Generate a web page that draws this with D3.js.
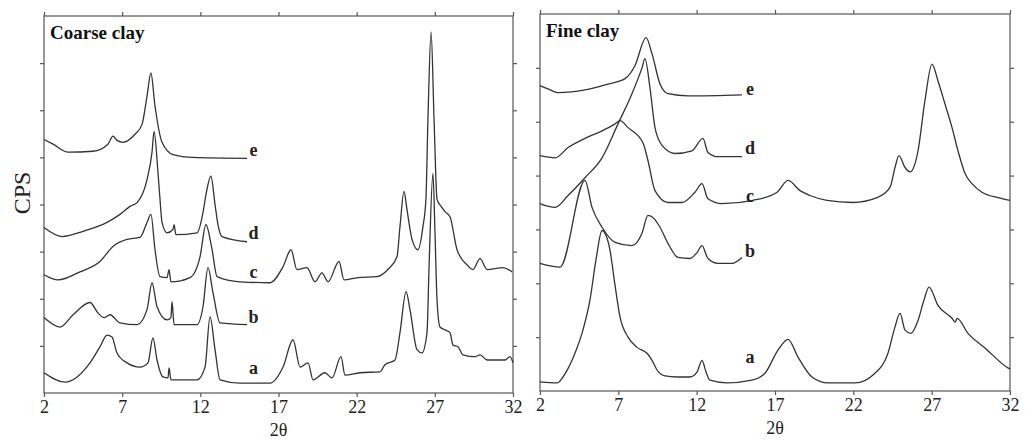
<!DOCTYPE html>
<html>
<head>
<meta charset="utf-8">
<script src="https://cdn.jsdelivr.net/npm/d3@7"></script>
<style>
  html, body { margin: 0; padding: 0; background: #fff; }
  svg { display: block; font-family: "Liberation Serif", "Times New Roman", serif; }
  .frame { fill: none; stroke: #555; stroke-width: 1.2; }
  .axis path { display: none; }
  .axis line { stroke: #555; stroke-width: 1.2; }
  .axis text { font-family: "Liberation Serif", serif; font-size: 18px; fill: #222; }
  .trace { fill: none; stroke: #333; stroke-width: 1.3; stroke-linejoin: round; }
</style>
</head>
<body>
<svg id="chart" width="1026" height="440"></svg>
<script>
// 2θ tick labels
const xTicks = [2, 7, 12, 17, 22, 27, 32];
const seriesNames = ['a', 'b', 'c', 'd', 'e'];

// Coarse clay traces, [2θ, CPS]
const coarseA = [[2.0,43],[3.34,23],[4.94,64],[5.58,98],[6.03,123],[6.35,119],[6.67,85],[7.31,64],[8.14,55],[8.65,64],[8.97,117],[9.23,70],[9.61,34],[9.93,32],[10.0,53],[10.12,28],[11.79,28],[12.3,55],[12.62,162],[12.94,92],[13.26,28],[14.54,21],[16.46,21],[17.29,55],[17.93,113],[18.38,55],[18.89,64],[19.21,28],[19.97,43],[20.42,32],[21.0,77],[21.25,38],[22.21,43],[23.49,45],[23.81,60],[24.45,70],[24.77,128],[25.16,215],[25.41,177],[25.86,92],[26.18,85],[26.5,128],[26.63,268],[26.88,466],[27.01,340],[27.14,198],[27.33,140],[27.65,134],[27.97,128],[28.16,102],[28.48,98],[28.8,81],[29.57,77],[29.89,81],[30.34,70],[31.49,70],[31.81,77],[32.0,64]];
const coarseB = [[2.0,160],[3.02,140],[3.86,166],[4.94,192],[5.45,170],[5.84,160],[6.22,166],[6.86,149],[7.95,145],[8.59,177],[8.91,234],[9.23,183],[9.87,155],[10.12,160],[10.19,194],[10.32,145],[11.79,145],[12.17,183],[12.49,266],[12.81,213],[13.26,149],[14.99,145]];
const coarseC = [[2.0,251],[2.9,240],[4.3,257],[5.58,279],[6.41,311],[7.31,326],[8.14,330],[8.59,362],[8.84,379],[9.1,304],[9.42,247],[9.87,245],[10.0,262],[10.12,236],[11.34,245],[11.98,289],[12.36,357],[12.75,304],[13.07,247],[14.54,236],[16.46,234],[17.29,268],[17.8,304],[18.18,262],[18.82,266],[19.34,236],[19.78,255],[20.17,236],[20.87,279],[21.19,240],[22.09,245],[23.3,247],[24.0,262],[24.58,289],[24.77,353],[25.03,428],[25.22,389],[25.54,326],[25.92,304],[26.24,353],[26.43,411],[26.56,581],[26.76,766],[26.95,581],[27.14,411],[27.4,396],[27.65,385],[27.97,374],[28.42,304],[29.06,272],[29.44,262],[29.89,285],[30.34,262],[31.36,266],[31.94,257]];
const coarseD = [[2.0,351],[3.15,332],[4.49,343],[6.03,362],[6.86,379],[7.5,396],[7.95,404],[8.59,453],[8.91,511],[9.04,555],[9.29,468],[9.42,411],[9.55,362],[9.87,340],[10.25,347],[10.32,357],[10.44,336],[11.79,340],[12.17,383],[12.36,421],[12.68,460],[12.94,400],[13.13,357],[13.39,332],[14.99,321]];
const coarseE = [[2.0,538],[2.58,528],[3.54,511],[5.13,513],[6.09,528],[6.41,545],[6.67,536],[7.05,532],[7.82,549],[8.27,570],[8.59,630],[8.84,679],[9.1,609],[9.55,532],[10.25,506],[11.53,500],[14.99,498]];

// Fine clay traces, [2θ, CPS]
const fineA = [[2.0,17],[3.09,15],[3.66,35],[4.23,70],[4.74,113],[5.19,169],[5.57,243],[5.96,298],[6.21,289],[6.47,261],[6.79,196],[7.11,137],[7.62,100],[8.19,81],[8.83,70],[9.15,57],[9.47,39],[9.98,28],[10.74,26],[11.57,26],[12.02,35],[12.34,57],[12.6,35],[12.85,20],[13.94,15],[15.53,20],[16.36,33],[17.19,76],[17.83,96],[18.47,63],[19.36,26],[20.38,15],[22.11,15],[23.38,33],[24.21,70],[24.66,119],[24.98,144],[25.3,113],[25.68,107],[26.13,131],[26.51,169],[26.83,193],[27.4,159],[28.3,135],[28.5,128],[28.62,135],[29.32,107],[30.4,80],[31.87,43],[32.0,41]];
const fineB = [[2.0,237],[3.28,230],[4.87,391],[5.32,341],[5.96,304],[6.79,276],[7.87,270],[8.51,293],[8.89,326],[9.28,320],[9.66,304],[10.17,274],[10.81,248],[11.57,246],[12.02,257],[12.34,270],[12.72,246],[13.36,237],[14.26,237],[14.89,248]];
const fineC = [[2.0,437],[2.96,433],[3.79,452],[4.87,469],[5.96,483],[6.79,496],[7.11,502],[7.62,489],[8.57,461],[8.89,428],[9.34,372],[10.17,350],[11.06,350],[11.89,369],[12.34,385],[12.72,357],[13.62,348],[15.6,354],[17.13,369],[17.83,391],[18.6,372],[19.23,363],[20.32,354],[21.98,350],[23.51,359],[24.34,378],[24.66,415],[24.91,437],[25.3,415],[25.62,407],[26.13,446],[26.57,539],[27.02,607],[27.4,576],[27.85,533],[28.3,489],[28.68,446],[29.13,404],[29.57,385],[30.21,369],[31.23,359],[32.0,354]];
const fineD = [[2.0,348],[2.96,341],[3.79,363],[4.87,396],[5.96,433],[6.98,496],[7.87,552],[8.51,600],[8.7,617],[9.02,563],[9.34,489],[9.79,456],[10.62,441],[11.7,446],[12.4,469],[12.72,443],[13.36,435],[14.89,435]];
const fineE = [[2.0,567],[2.51,561],[3.15,554],[4.87,559],[6.34,570],[7.43,580],[8.06,604],[8.77,656],[9.15,626],[9.66,570],[10.17,552],[11.45,548],[14.89,550]];

// where the letter labels sit (CPS level at 2θ ≈ 15.4)
const coarseLabelY = [53, 162, 257, 340, 517];
const fineLabelY = [63, 261, 363, 452, 561];

const svg = d3.select('#chart');

function drawPanel(cfg) {
  const x = d3.scaleLinear().domain([2, 32]).range([cfg.left, cfg.right]);
  const y = d3.scaleLinear().domain([0, cfg.yMax]).range([cfg.bottom, cfg.top]);
  const yTicks = d3.range(100, cfg.yMax, 100);
  const g = svg.append('g');

  g.append('g').attr('class', 'axis')
    .attr('transform', `translate(0,${cfg.bottom})`)
    .call(d3.axisBottom(x).tickValues(xTicks).tickSize(4).tickPadding(3).tickFormat(d3.format('d')));
  g.append('g').attr('class', 'axis')
    .attr('transform', `translate(0,${cfg.top})`)
    .call(d3.axisTop(x).tickValues(xTicks).tickSize(4).tickFormat(''));
  g.append('g').attr('class', 'axis')
    .attr('transform', `translate(${cfg.left},0)`)
    .call(d3.axisLeft(y).tickValues(yTicks).tickSize(4).tickFormat(''));
  g.append('g').attr('class', 'axis')
    .attr('transform', `translate(${cfg.right},0)`)
    .call(d3.axisRight(y).tickValues(yTicks).tickSize(4).tickFormat(''));

  g.append('rect').attr('class', 'frame')
    .attr('x', cfg.left).attr('y', cfg.top)
    .attr('width', cfg.right - cfg.left).attr('height', cfg.bottom - cfg.top);

  const line = d3.line()
    .x(d => x(d[0])).y(d => y(d[1]))
    .curve(d3.curveMonotoneX);

  g.selectAll('path.trace')
    .data(cfg.series)
    .enter().append('path')
    .attr('class', 'trace')
    .attr('d', line);

  g.selectAll('text.name')
    .data(seriesNames)
    .enter().append('text')
    .attr('class', 'name')
    .attr('x', x(15.4))
    .attr('y', (d, i) => y(cfg.labelY[i]))
    .attr('dy', '0.35em')
    .attr('text-anchor', 'middle')
    .attr('font-size', 18).attr('font-weight', 'bold').attr('fill', '#222')
    .text(d => d);

  g.append('text')
    .attr('x', cfg.left + 6).attr('y', cfg.top + 23)
    .attr('font-size', 19).attr('font-weight', 'bold').attr('fill', '#111')
    .text(cfg.title);

  g.append('text')
    .attr('x', (cfg.left + cfg.right) / 2).attr('y', cfg.bottom + 43)
    .attr('text-anchor', 'middle')
    .attr('font-size', 18).attr('fill', '#222')
    .text('2θ');
}

drawPanel({
  title: 'Coarse clay', left: 44, right: 513, top: 16, bottom: 393, yMax: 800,
  series: [coarseA, coarseB, coarseC, coarseD, coarseE], labelY: coarseLabelY
});
drawPanel({
  title: 'Fine clay', left: 540, right: 1010, top: 14, bottom: 391, yMax: 700,
  series: [fineA, fineB, fineC, fineD, fineE], labelY: fineLabelY
});

svg.append('text')
  .attr('transform', 'translate(22,193) rotate(-90)')
  .attr('text-anchor', 'middle').attr('dy', '0.35em')
  .attr('font-size', 24).attr('fill', '#222')
  .text('CPS');
</script>
</body>
</html>
